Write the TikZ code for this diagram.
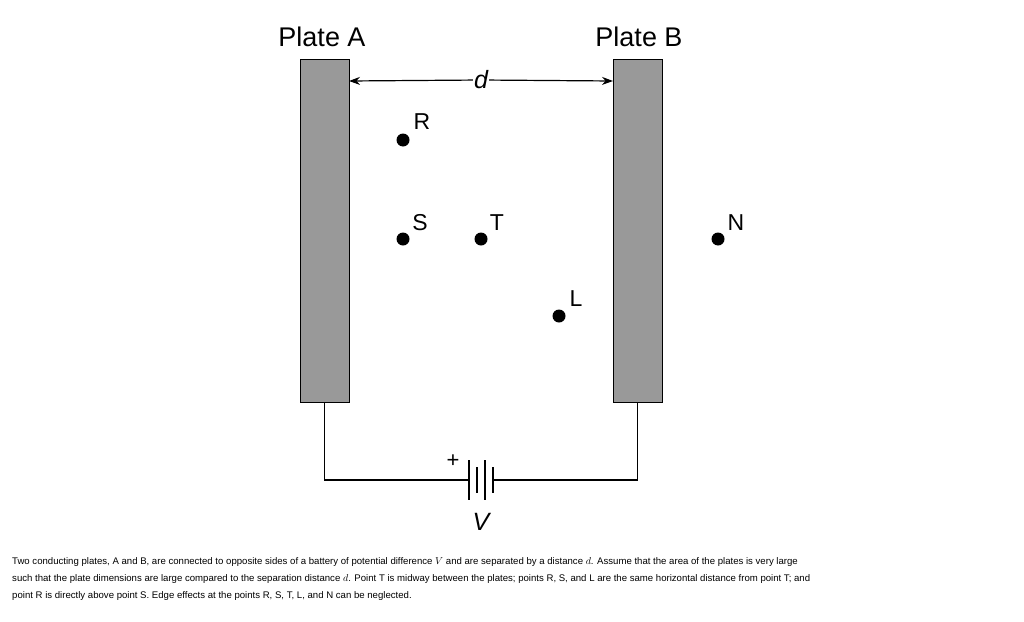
\documentclass[tikz,border=0pt]{standalone}
\usepackage{fontspec}
\setmainfont{Liberation Sans}
\usetikzlibrary{arrows.meta}
\begin{document}
\begin{tikzpicture}[x=1pt,y=-1pt,
  plate/.style={draw=black,line width=1pt,fill=black!40},
  wire/.style={line width=1.2pt},
  pt/.style={circle,fill=black,inner sep=0pt,minimum size=13pt},
  lbl/.style={font=\fontsize{23}{26}\selectfont,inner sep=0pt},
  ttl/.style={font=\fontsize{27}{30}\selectfont,inner sep=0pt},
  captext/.style={font=\fontsize{9.6}{12}\selectfont,anchor=west,inner sep=0pt}]
\useasboundingbox (0,0) rectangle (1024,621);
\node[plate,minimum width=49pt,minimum height=343pt,inner sep=0pt] (A) at (324.5,230.5) {};
\node[plate,minimum width=49pt,minimum height=343pt,inner sep=0pt] (B) at (637.5,230.5) {};
\node[ttl] (tA) at (322,37) {Plate A};
\node[ttl] (tB) at (639,37) {Plate B};
\node[inner sep=1pt,font=\fontsize{25}{28}\selectfont\itshape] (d) at (481,80) {d};
\coordinate (aA) at (349,81);
\coordinate (aB) at (613,81);
\draw[wire,-{Stealth[length=11pt,width=8pt]}] (d) -- (aA);
\draw[wire,-{Stealth[length=11pt,width=8pt]}] (d) -- (aB);
\node[pt] (R) at (403,140) {};
\node[pt] (S) at (403,239) {};
\node[pt] (T) at (481,239) {};
\node[pt] (L) at (559,316) {};
\node[pt] (N) at (718,239) {};
\node[lbl] at (422,122) {R};
\node[lbl] at (420,223) {S};
\node[lbl] at (497,223) {T};
\node[lbl] at (576,299) {L};
\node[lbl] at (736,223) {N};
% battery
\coordinate (b1) at (469,480);
\coordinate (b4) at (493,480);
\draw[wire] (A.south) |- (b1);
\draw[wire] (B.south) |- (b4);
\draw[wire] (469,460) -- (469,500);
\draw[wire] (477,467) -- (477,493);
\draw[wire] (485,460) -- (485,500);
\draw[wire] (493,467) -- (493,493);
\node[font=\fontsize{22}{24}\selectfont,inner sep=0pt] (plus) at (453,461) {+};
\node[font=\fontsize{25}{28}\selectfont\itshape,inner sep=0pt] (V) at (481,522) {V};
\node[captext] (c1) at (12,562) {Two conducting plates, A and B, are connected to opposite sides of a battery of potential difference $V$ and are separated by a distance $d$. Assume that the area of the plates is very large};
\node[captext] (c2) at (12,579) {such that the plate dimensions are large compared to the separation distance $d$. Point T is midway between the plates; points R, S, and L are the same horizontal distance from point T; and};
\node[captext] (c3) at (12,596) {point R is directly above point S. Edge effects at the points R, S, T, L, and N can be neglected.};
\end{tikzpicture}
\end{document}
